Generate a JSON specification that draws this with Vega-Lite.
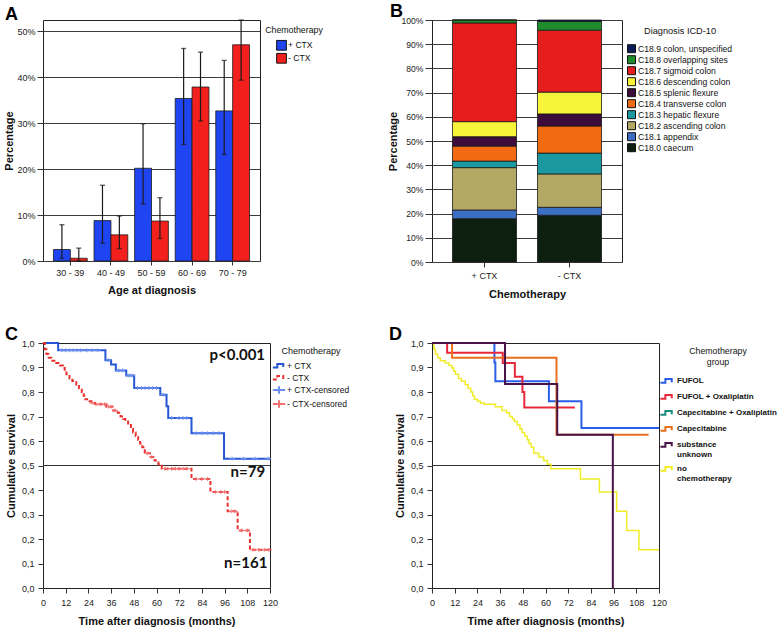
{
  "$schema": "https://vega.github.io/schema/vega-lite/v6.json",
  "background": "white",
  "padding": {"left": 3, "top": 2, "right": 0, "bottom": 0},
  "autosize": {"type": "pad"},
  "columns": 2,
  "bounds": "flush",
  "spacing": {"row": 81, "column": 162},
  "resolve": {
    "scale": {"color": "independent", "shape": "independent", "strokeDash": "independent", "x": "independent", "y": "independent", "xOffset": "independent"},
    "legend": {"color": "independent", "shape": "independent", "strokeDash": "independent"},
    "axis": {"x": "independent", "y": "independent"}
  },
  "config": {
    "font": "Liberation Sans",
    "view": {"stroke": "#222", "strokeWidth": 1},
    "axis": {"labelFont": "Liberation Sans", "labelFontSize": 9, "labelColor": "#222", "titleFont": "Liberation Sans", "titleFontSize": 11, "titleFontWeight": "bold", "titleColor": "#111", "tickColor": "#333", "domain": false, "grid": false, "labelFlush": false, "labelOverlap": false},
    "legend": {"labelFont": "Liberation Sans", "titleFont": "Liberation Sans", "titleFontWeight": "normal", "titleFontSize": 8.8, "labelFontSize": 8.6, "titleAnchor": "middle", "titleColor": "#111", "labelColor": "#111", "padding": 4, "rowPadding": -7},
    "title": {"font": "Liberation Sans", "fontSize": 18, "fontWeight": "bold", "anchor": "start", "frame": "group", "color": "#000", "baseline": "alphabetic", "offset": -5}
  },
  "datasets": {
    "age": [
      {"age": "30 - 39", "chemo": "+ CTX", "pct": 2.5, "lo": 0.6, "hi": 7.9},
      {"age": "30 - 39", "chemo": "- CTX", "pct": 0.6, "lo": 0.0, "hi": 2.8},
      {"age": "40 - 49", "chemo": "+ CTX", "pct": 8.8, "lo": 3.9, "hi": 16.5},
      {"age": "40 - 49", "chemo": "- CTX", "pct": 5.7, "lo": 2.7, "hi": 9.8},
      {"age": "50 - 59", "chemo": "+ CTX", "pct": 20.2, "lo": 12.4, "hi": 29.9},
      {"age": "50 - 59", "chemo": "- CTX", "pct": 8.7, "lo": 4.9, "hi": 13.8},
      {"age": "60 - 69", "chemo": "+ CTX", "pct": 35.4, "lo": 25.4, "hi": 46.3},
      {"age": "60 - 69", "chemo": "- CTX", "pct": 37.9, "lo": 30.5, "hi": 45.5},
      {"age": "70 - 79", "chemo": "+ CTX", "pct": 32.7, "lo": 23.2, "hi": 43.7},
      {"age": "70 - 79", "chemo": "- CTX", "pct": 47.1, "lo": 39.4, "hi": 52.5}
    ],
    "icd": [
      {"chemo": "+ CTX", "dx": "C18.0 caecum", "pct": 17.9},
      {"chemo": "+ CTX", "dx": "C18.1 appendix", "pct": 3.6},
      {"chemo": "+ CTX", "dx": "C18.2 ascending colon", "pct": 17.5},
      {"chemo": "+ CTX", "dx": "C18.3 hepatic flexure", "pct": 2.7},
      {"chemo": "+ CTX", "dx": "C18.4 transverse colon", "pct": 6.2},
      {"chemo": "+ CTX", "dx": "C18.5 splenic flexure", "pct": 3.9},
      {"chemo": "+ CTX", "dx": "C18.6 descending colon", "pct": 6.2},
      {"chemo": "+ CTX", "dx": "C18.7 sigmoid colon", "pct": 40.8},
      {"chemo": "+ CTX", "dx": "C18.8 overlapping sites", "pct": 1.2},
      {"chemo": "+ CTX", "dx": "C18.9 colon, unspecified", "pct": 0},
      {"chemo": "- CTX", "dx": "C18.0 caecum", "pct": 19.3},
      {"chemo": "- CTX", "dx": "C18.1 appendix", "pct": 3.3},
      {"chemo": "- CTX", "dx": "C18.2 ascending colon", "pct": 13.8},
      {"chemo": "- CTX", "dx": "C18.3 hepatic flexure", "pct": 8.6},
      {"chemo": "- CTX", "dx": "C18.4 transverse colon", "pct": 11.2},
      {"chemo": "- CTX", "dx": "C18.5 splenic flexure", "pct": 5.0},
      {"chemo": "- CTX", "dx": "C18.6 descending colon", "pct": 9.0},
      {"chemo": "- CTX", "dx": "C18.7 sigmoid colon", "pct": 25.6},
      {"chemo": "- CTX", "dx": "C18.8 overlapping sites", "pct": 3.6},
      {"chemo": "- CTX", "dx": "C18.9 colon, unspecified", "pct": 0.6}
    ],
    "kmC": [
      {"series": "+ CTX", "t": 0, "s": 1},
      {"series": "+ CTX", "t": 8, "s": 0.97},
      {"series": "+ CTX", "t": 33, "s": 0.93},
      {"series": "+ CTX", "t": 36, "s": 0.912},
      {"series": "+ CTX", "t": 38.5, "s": 0.888},
      {"series": "+ CTX", "t": 44, "s": 0.867},
      {"series": "+ CTX", "t": 48.2, "s": 0.816},
      {"series": "+ CTX", "t": 62, "s": 0.789},
      {"series": "+ CTX", "t": 65.3, "s": 0.742},
      {"series": "+ CTX", "t": 66.2, "s": 0.694},
      {"series": "+ CTX", "t": 78.5, "s": 0.632},
      {"series": "+ CTX", "t": 95.7, "s": 0.528},
      {"series": "+ CTX", "t": 120, "s": 0.528},
      {"series": "- CTX", "t": 0, "s": 1},
      {"series": "- CTX", "t": 1, "s": 0.975},
      {"series": "- CTX", "t": 1.8, "s": 0.955},
      {"series": "- CTX", "t": 3, "s": 0.94},
      {"series": "- CTX", "t": 4.4, "s": 0.928},
      {"series": "- CTX", "t": 7, "s": 0.918},
      {"series": "- CTX", "t": 9, "s": 0.908},
      {"series": "- CTX", "t": 10.5, "s": 0.898},
      {"series": "- CTX", "t": 11.5, "s": 0.885},
      {"series": "- CTX", "t": 12.4, "s": 0.872},
      {"series": "- CTX", "t": 14, "s": 0.855},
      {"series": "- CTX", "t": 15.5, "s": 0.845},
      {"series": "- CTX", "t": 17.6, "s": 0.83},
      {"series": "- CTX", "t": 19, "s": 0.815},
      {"series": "- CTX", "t": 20.5, "s": 0.8},
      {"series": "- CTX", "t": 21.5, "s": 0.785},
      {"series": "- CTX", "t": 22.4, "s": 0.77},
      {"series": "- CTX", "t": 24, "s": 0.762},
      {"series": "- CTX", "t": 25.6, "s": 0.755},
      {"series": "- CTX", "t": 27.5, "s": 0.75},
      {"series": "- CTX", "t": 33.5, "s": 0.74},
      {"series": "- CTX", "t": 37, "s": 0.725},
      {"series": "- CTX", "t": 39.5, "s": 0.715},
      {"series": "- CTX", "t": 41, "s": 0.7},
      {"series": "- CTX", "t": 42.5, "s": 0.69},
      {"series": "- CTX", "t": 43.5, "s": 0.68},
      {"series": "- CTX", "t": 45, "s": 0.665},
      {"series": "- CTX", "t": 46.5, "s": 0.65},
      {"series": "- CTX", "t": 47.6, "s": 0.635},
      {"series": "- CTX", "t": 49, "s": 0.62},
      {"series": "- CTX", "t": 50.3, "s": 0.605},
      {"series": "- CTX", "t": 51.3, "s": 0.59},
      {"series": "- CTX", "t": 52.5, "s": 0.575},
      {"series": "- CTX", "t": 53.8, "s": 0.55},
      {"series": "- CTX", "t": 56.5, "s": 0.535},
      {"series": "- CTX", "t": 59, "s": 0.52},
      {"series": "- CTX", "t": 61, "s": 0.505},
      {"series": "- CTX", "t": 62.8, "s": 0.487},
      {"series": "- CTX", "t": 78.5, "s": 0.445},
      {"series": "- CTX", "t": 88.5, "s": 0.392},
      {"series": "- CTX", "t": 97.6, "s": 0.313},
      {"series": "- CTX", "t": 102.9, "s": 0.235},
      {"series": "- CTX", "t": 109.4, "s": 0.156},
      {"series": "- CTX", "t": 120, "s": 0.156}
    ],
    "censC": [
      {"series": "+ CTX-censored", "t": 10, "s": 0.97},
      {"series": "+ CTX-censored", "t": 12, "s": 0.97},
      {"series": "+ CTX-censored", "t": 14, "s": 0.97},
      {"series": "+ CTX-censored", "t": 16, "s": 0.97},
      {"series": "+ CTX-censored", "t": 18, "s": 0.97},
      {"series": "+ CTX-censored", "t": 20, "s": 0.97},
      {"series": "+ CTX-censored", "t": 23, "s": 0.97},
      {"series": "+ CTX-censored", "t": 26, "s": 0.97},
      {"series": "+ CTX-censored", "t": 29, "s": 0.97},
      {"series": "+ CTX-censored", "t": 34.5, "s": 0.93},
      {"series": "+ CTX-censored", "t": 40, "s": 0.888},
      {"series": "+ CTX-censored", "t": 42, "s": 0.888},
      {"series": "+ CTX-censored", "t": 45.5, "s": 0.867},
      {"series": "+ CTX-censored", "t": 47, "s": 0.867},
      {"series": "+ CTX-censored", "t": 50, "s": 0.816},
      {"series": "+ CTX-censored", "t": 52, "s": 0.816},
      {"series": "+ CTX-censored", "t": 54, "s": 0.816},
      {"series": "+ CTX-censored", "t": 56, "s": 0.816},
      {"series": "+ CTX-censored", "t": 58, "s": 0.816},
      {"series": "+ CTX-censored", "t": 60, "s": 0.816},
      {"series": "+ CTX-censored", "t": 63.5, "s": 0.789},
      {"series": "+ CTX-censored", "t": 68, "s": 0.694},
      {"series": "+ CTX-censored", "t": 72, "s": 0.694},
      {"series": "+ CTX-censored", "t": 74, "s": 0.694},
      {"series": "+ CTX-censored", "t": 76, "s": 0.694},
      {"series": "+ CTX-censored", "t": 81, "s": 0.632},
      {"series": "+ CTX-censored", "t": 84, "s": 0.632},
      {"series": "+ CTX-censored", "t": 87, "s": 0.632},
      {"series": "+ CTX-censored", "t": 90, "s": 0.632},
      {"series": "+ CTX-censored", "t": 93, "s": 0.632},
      {"series": "+ CTX-censored", "t": 100, "s": 0.528},
      {"series": "+ CTX-censored", "t": 106, "s": 0.528},
      {"series": "+ CTX-censored", "t": 112, "s": 0.528},
      {"series": "+ CTX-censored", "t": 119, "s": 0.528},
      {"series": "- CTX-censored", "t": 26, "s": 0.755},
      {"series": "- CTX-censored", "t": 28.5, "s": 0.75},
      {"series": "- CTX-censored", "t": 30.5, "s": 0.75},
      {"series": "- CTX-censored", "t": 32.5, "s": 0.75},
      {"series": "- CTX-censored", "t": 34.5, "s": 0.74},
      {"series": "- CTX-censored", "t": 36, "s": 0.74},
      {"series": "- CTX-censored", "t": 38, "s": 0.725},
      {"series": "- CTX-censored", "t": 55, "s": 0.55},
      {"series": "- CTX-censored", "t": 57.5, "s": 0.535},
      {"series": "- CTX-censored", "t": 64.5, "s": 0.487},
      {"series": "- CTX-censored", "t": 66, "s": 0.487},
      {"series": "- CTX-censored", "t": 68, "s": 0.487},
      {"series": "- CTX-censored", "t": 70, "s": 0.487},
      {"series": "- CTX-censored", "t": 72, "s": 0.487},
      {"series": "- CTX-censored", "t": 74, "s": 0.487},
      {"series": "- CTX-censored", "t": 76, "s": 0.487},
      {"series": "- CTX-censored", "t": 81, "s": 0.445},
      {"series": "- CTX-censored", "t": 84, "s": 0.445},
      {"series": "- CTX-censored", "t": 87, "s": 0.445},
      {"series": "- CTX-censored", "t": 91, "s": 0.392},
      {"series": "- CTX-censored", "t": 94, "s": 0.392},
      {"series": "- CTX-censored", "t": 96, "s": 0.392},
      {"series": "- CTX-censored", "t": 99.5, "s": 0.313},
      {"series": "- CTX-censored", "t": 101.5, "s": 0.313},
      {"series": "- CTX-censored", "t": 105, "s": 0.235},
      {"series": "- CTX-censored", "t": 108, "s": 0.235},
      {"series": "- CTX-censored", "t": 111, "s": 0.156},
      {"series": "- CTX-censored", "t": 114, "s": 0.156},
      {"series": "- CTX-censored", "t": 117, "s": 0.156},
      {"series": "- CTX-censored", "t": 119.5, "s": 0.156}
    ],
    "notesC": [
      {"label": "p<0.001", "t": 117.4, "s": 0.952},
      {"label": "n=79", "t": 117.4, "s": 0.472},
      {"label": "n=161", "t": 118.6, "s": 0.102}
    ],
    "kmD": [
      {"group": "Capecitabine + Oxaliplatin", "t": 0, "s": 1},
      {"group": "Capecitabine + Oxaliplatin", "t": 5, "s": 1},
      {"group": "no chemotherapy", "t": 0, "s": 1},
      {"group": "no chemotherapy", "t": 1, "s": 0.975},
      {"group": "no chemotherapy", "t": 1.8, "s": 0.955},
      {"group": "no chemotherapy", "t": 3, "s": 0.94},
      {"group": "no chemotherapy", "t": 4.4, "s": 0.928},
      {"group": "no chemotherapy", "t": 7, "s": 0.918},
      {"group": "no chemotherapy", "t": 9, "s": 0.908},
      {"group": "no chemotherapy", "t": 10.5, "s": 0.898},
      {"group": "no chemotherapy", "t": 11.5, "s": 0.885},
      {"group": "no chemotherapy", "t": 12.4, "s": 0.872},
      {"group": "no chemotherapy", "t": 14, "s": 0.855},
      {"group": "no chemotherapy", "t": 15.5, "s": 0.845},
      {"group": "no chemotherapy", "t": 17.6, "s": 0.83},
      {"group": "no chemotherapy", "t": 19, "s": 0.815},
      {"group": "no chemotherapy", "t": 20.5, "s": 0.8},
      {"group": "no chemotherapy", "t": 21.5, "s": 0.785},
      {"group": "no chemotherapy", "t": 22.4, "s": 0.77},
      {"group": "no chemotherapy", "t": 24, "s": 0.762},
      {"group": "no chemotherapy", "t": 25.6, "s": 0.755},
      {"group": "no chemotherapy", "t": 27.5, "s": 0.75},
      {"group": "no chemotherapy", "t": 33.5, "s": 0.74},
      {"group": "no chemotherapy", "t": 37, "s": 0.725},
      {"group": "no chemotherapy", "t": 39.5, "s": 0.715},
      {"group": "no chemotherapy", "t": 41, "s": 0.7},
      {"group": "no chemotherapy", "t": 42.5, "s": 0.69},
      {"group": "no chemotherapy", "t": 43.5, "s": 0.68},
      {"group": "no chemotherapy", "t": 45, "s": 0.665},
      {"group": "no chemotherapy", "t": 46.5, "s": 0.65},
      {"group": "no chemotherapy", "t": 47.6, "s": 0.635},
      {"group": "no chemotherapy", "t": 49, "s": 0.62},
      {"group": "no chemotherapy", "t": 50.3, "s": 0.605},
      {"group": "no chemotherapy", "t": 51.3, "s": 0.59},
      {"group": "no chemotherapy", "t": 52.5, "s": 0.575},
      {"group": "no chemotherapy", "t": 53.8, "s": 0.55},
      {"group": "no chemotherapy", "t": 56.5, "s": 0.535},
      {"group": "no chemotherapy", "t": 59, "s": 0.52},
      {"group": "no chemotherapy", "t": 61, "s": 0.505},
      {"group": "no chemotherapy", "t": 62.8, "s": 0.487},
      {"group": "no chemotherapy", "t": 78.5, "s": 0.445},
      {"group": "no chemotherapy", "t": 88.5, "s": 0.392},
      {"group": "no chemotherapy", "t": 97.6, "s": 0.313},
      {"group": "no chemotherapy", "t": 102.9, "s": 0.235},
      {"group": "no chemotherapy", "t": 109.4, "s": 0.156},
      {"group": "no chemotherapy", "t": 120, "s": 0.156},
      {"group": "FUFOL", "t": 0, "s": 1},
      {"group": "FUFOL", "t": 33, "s": 0.92},
      {"group": "FUFOL", "t": 33.5, "s": 0.844},
      {"group": "FUFOL", "t": 61.8, "s": 0.762},
      {"group": "FUFOL", "t": 79, "s": 0.653},
      {"group": "FUFOL", "t": 120, "s": 0.653},
      {"group": "FUFOL + Oxaliplatin", "t": 0, "s": 1},
      {"group": "FUFOL + Oxaliplatin", "t": 8, "s": 0.96},
      {"group": "FUFOL + Oxaliplatin", "t": 37.4, "s": 0.918},
      {"group": "FUFOL + Oxaliplatin", "t": 43.8, "s": 0.862},
      {"group": "FUFOL + Oxaliplatin", "t": 47.8, "s": 0.8},
      {"group": "FUFOL + Oxaliplatin", "t": 48.8, "s": 0.737},
      {"group": "FUFOL + Oxaliplatin", "t": 75.5, "s": 0.737},
      {"group": "Capecitabine", "t": 0, "s": 1},
      {"group": "Capecitabine", "t": 10.6, "s": 0.94},
      {"group": "Capecitabine", "t": 65.8, "s": 0.626},
      {"group": "Capecitabine", "t": 114.5, "s": 0.626},
      {"group": "substance unknown", "t": 0, "s": 1},
      {"group": "substance unknown", "t": 38.6, "s": 0.833},
      {"group": "substance unknown", "t": 66.2, "s": 0.626},
      {"group": "substance unknown", "t": 95.6, "s": 0}
    ]
  },
  "concat": [
    {
      "width": 217,
      "height": 241,
      "title": {"text": "A", "dx": -38},
      "data": {"name": "age"},
      "encoding": {
        "x": {"field": "age", "type": "nominal", "title": "Age at diagnosis", "scale": {"paddingInner": 0.168, "paddingOuter": 0.258}, "axis": {"labelAngle": 0, "tickSize": 4, "labelPadding": 3, "titlePadding": 7}},
        "xOffset": {"field": "chemo", "type": "nominal", "sort": ["+ CTX", "- CTX"]}
      },
      "layer": [
        {
          "mark": {"type": "bar", "stroke": "#1a1a1a", "strokeWidth": 0.8},
          "encoding": {
            "y": {"field": "pct", "type": "quantitative", "title": "Percentage", "scale": {"domain": [0, 52.5], "nice": false}, "axis": {"values": [0, 10, 20, 30, 40, 50], "labelExpr": "datum.value + '%'", "grid": true, "gridColor": "#3c3c3c", "gridWidth": 1.2, "tickSize": 6, "labelPadding": 2, "titlePadding": 2}},
            "color": {"field": "chemo", "type": "nominal", "scale": {"domain": ["+ CTX", "- CTX"], "range": ["#1f44f2", "#f2201c"]}, "legend": {"title": "Chemotherapy", "orient": "right", "offset": -1, "symbolType": "square", "symbolSize": 95, "symbolStrokeColor": "#111", "symbolStrokeWidth": 1, "rowPadding": -4.7, "labelOffset": 1, "titlePadding": 5, "padding": 6}}
          }
        },
        {
          "mark": {"type": "rule", "color": "#1a1a1a", "strokeWidth": 1.2},
          "encoding": {"y": {"field": "lo", "type": "quantitative", "title": "Percentage", "axis": {"values": [0, 10, 20, 30, 40, 50], "labelExpr": "datum.value + '%'", "grid": true, "gridColor": "#3c3c3c", "gridWidth": 1.2, "tickSize": 6, "labelPadding": 2, "titlePadding": 2}}, "y2": {"field": "hi"}}
        },
        {
          "mark": {"type": "tick", "color": "#1a1a1a", "orient": "horizontal", "size": 5, "thickness": 1.3},
          "encoding": {"y": {"field": "hi", "type": "quantitative", "title": "Percentage", "axis": {"values": [0, 10, 20, 30, 40, 50], "labelExpr": "datum.value + '%'", "grid": true, "gridColor": "#3c3c3c", "gridWidth": 1.2, "tickSize": 6, "labelPadding": 2, "titlePadding": 2}}}
        },
        {
          "mark": {"type": "tick", "color": "#1a1a1a", "orient": "horizontal", "size": 5, "thickness": 1.3},
          "encoding": {"y": {"field": "lo", "type": "quantitative", "title": "Percentage", "axis": {"values": [0, 10, 20, 30, 40, 50], "labelExpr": "datum.value + '%'", "grid": true, "gridColor": "#3c3c3c", "gridWidth": 1.2, "tickSize": 6, "labelPadding": 2, "titlePadding": 2}}}
        }
      ]
    },
    {
      "width": 190,
      "height": 242,
      "title": {"text": "B", "dx": -42},
      "data": {"name": "icd"},
      "mark": {"type": "bar", "stroke": "#1a1a1a", "strokeWidth": 0.8},
      "encoding": {
        "x": {"field": "chemo", "type": "nominal", "title": "Chemotherapy", "sort": ["+ CTX", "- CTX"], "scale": {"paddingInner": 0.247, "paddingOuter": 0.241}, "axis": {"labelAngle": 0, "tickSize": 5, "labelPadding": 4, "titlePadding": 8}},
        "y": {"field": "pct", "type": "quantitative", "stack": "zero", "title": "Percentage", "scale": {"domain": [0, 100], "nice": false}, "axis": {"values": [0, 10, 20, 30, 40, 50, 60, 70, 80, 90, 100], "labelExpr": "datum.value + '%'", "labelFontSize": 8.6, "grid": true, "gridColor": "#3c3c3c", "gridWidth": 1.2, "tickSize": 7, "labelPadding": 2, "titlePadding": 3}},
        "color": {"field": "dx", "type": "nominal", "scale": {"domain": ["C18.9 colon, unspecified", "C18.8 overlapping sites", "C18.7 sigmoid colon", "C18.6 descending colon", "C18.5 splenic flexure", "C18.4 transverse colon", "C18.3 hepatic flexure", "C18.2 ascending colon", "C18.1 appendix", "C18.0 caecum"], "range": ["#0c1c5a", "#1f8c2c", "#e51d1d", "#f8f43a", "#3c0c3a", "#f26a12", "#1a9aa0", "#b3a864", "#3a6fc4", "#0d2010"]}, "legend": {"title": "Diagnosis ICD-10", "orient": "right", "offset": -2, "padding": 7, "symbolType": "square", "symbolSize": 64, "symbolStrokeColor": "#111", "symbolStrokeWidth": 1, "rowPadding": -2.2, "labelOffset": 2, "titlePadding": 8, "labelFontSize": 8.6, "titleFontSize": 9.2}},
        "order": {"field": "dx", "type": "nominal", "sort": "ascending"}
      }
    },
    {
      "width": 227,
      "height": 245,
      "title": {"text": "C", "dx": -38},
      "layer": [
        {
          "data": {"values": [{"s": 0.5}]},
          "mark": {"type": "rule", "color": "#333", "strokeWidth": 1},
          "encoding": {"y": {"field": "s", "type": "quantitative", "title": "Cumulative survival", "scale": {"domain": [0, 1], "nice": false}, "axis": {"values": [0, 0.1, 0.2, 0.3, 0.4, 0.5, 0.6, 0.7, 0.8, 0.9, 1], "labelExpr": "replace(format(datum.value, '.1f'), '.', ',')", "tickSize": 5, "labelPadding": 4, "titlePadding": 5}}}
        },
        {
          "data": {"name": "kmC"},
          "mark": {"type": "line", "interpolate": "step-after", "strokeWidth": 2},
          "encoding": {
            "x": {"field": "t", "type": "quantitative", "title": "Time after diagnosis (months)", "scale": {"domain": [0, 120], "nice": false}, "axis": {"values": [0, 12, 24, 36, 48, 60, 72, 84, 96, 108, 120], "tickSize": 5, "labelPadding": 5, "titlePadding": 8}},
            "y": {"field": "s", "type": "quantitative", "title": "Cumulative survival", "axis": {"values": [0, 0.1, 0.2, 0.3, 0.4, 0.5, 0.6, 0.7, 0.8, 0.9, 1], "labelExpr": "replace(format(datum.value, '.1f'), '.', ',')", "tickSize": 5, "labelPadding": 4, "titlePadding": 5}},
            "color": {"field": "series", "type": "nominal", "scale": {"domain": ["+ CTX", "- CTX", "+ CTX-censored", "- CTX-censored"], "range": ["#2456d6", "#e8312f", "#6b8ff0", "#f07070"]}, "legend": {"title": "Chemotherapy", "orient": "right", "offset": -5, "symbolSize": 90, "symbolStrokeWidth": 2, "rowPadding": -7, "labelOffset": 2, "titlePadding": 4, "labelFontSize": 8.5, "titleFontSize": 9}},
            "strokeDash": {"field": "series", "type": "nominal", "scale": {"domain": ["+ CTX", "- CTX", "+ CTX-censored", "- CTX-censored"], "range": [[1, 0], [4, 2.5], [1, 0], [1, 0]]}, "legend": {"title": "Chemotherapy", "orient": "right", "offset": -5, "symbolSize": 90, "symbolStrokeWidth": 2, "rowPadding": -7, "labelOffset": 2, "titlePadding": 4, "labelFontSize": 8.5, "titleFontSize": 9}}
          }
        },
        {
          "data": {"name": "censC"},
          "mark": {"type": "point", "filled": false, "strokeWidth": 1, "size": 22, "opacity": 1},
          "encoding": {
            "x": {"field": "t", "type": "quantitative", "title": "Time after diagnosis (months)", "axis": {"values": [0, 12, 24, 36, 48, 60, 72, 84, 96, 108, 120], "tickSize": 5, "labelPadding": 5, "titlePadding": 8}},
            "y": {"field": "s", "type": "quantitative", "title": "Cumulative survival", "axis": {"values": [0, 0.1, 0.2, 0.3, 0.4, 0.5, 0.6, 0.7, 0.8, 0.9, 1], "labelExpr": "replace(format(datum.value, '.1f'), '.', ',')", "tickSize": 5, "labelPadding": 4, "titlePadding": 5}},
            "color": {"field": "series", "type": "nominal"},
            "shape": {"field": "series", "type": "nominal", "scale": {"domain": ["+ CTX", "- CTX", "+ CTX-censored", "- CTX-censored"], "range": ["M-1.3,0.3H-0.35V-0.4H0.9V0.2", "M-1.3,0.3H-0.35V-0.4H0.9V0.2", "M-1.3,0H1.3M0,-0.8V0.8", "M-1.3,0H1.3M0,-0.8V0.8"]}, "legend": {"title": "Chemotherapy", "orient": "right", "offset": -5, "symbolSize": 90, "symbolStrokeWidth": 2, "rowPadding": -7, "labelOffset": 2, "titlePadding": 4, "labelFontSize": 8.5, "titleFontSize": 9}}
          }
        },
        {
          "data": {"name": "notesC"},
          "mark": {"type": "text", "align": "right", "baseline": "middle", "font": "Lato", "fontWeight": "bold", "fontSize": 15, "color": "#111"},
          "encoding": {
            "x": {"field": "t", "type": "quantitative", "title": "Time after diagnosis (months)", "axis": {"values": [0, 12, 24, 36, 48, 60, 72, 84, 96, 108, 120], "tickSize": 5, "labelPadding": 5, "titlePadding": 8}},
            "y": {"field": "s", "type": "quantitative", "title": "Cumulative survival", "axis": {"values": [0, 0.1, 0.2, 0.3, 0.4, 0.5, 0.6, 0.7, 0.8, 0.9, 1], "labelExpr": "replace(format(datum.value, '.1f'), '.', ',')", "tickSize": 5, "labelPadding": 4, "titlePadding": 5}},
            "text": {"field": "label", "type": "nominal"}
          }
        }
      ]
    },
    {
      "width": 227,
      "height": 245,
      "title": {"text": "D", "dx": -43},
      "layer": [
        {
          "data": {"values": [{"s": 0.5}]},
          "mark": {"type": "rule", "color": "#333", "strokeWidth": 1},
          "encoding": {"y": {"field": "s", "type": "quantitative", "title": "Cumulative survival", "scale": {"domain": [0, 1], "nice": false}, "axis": {"values": [0, 0.1, 0.2, 0.3, 0.4, 0.5, 0.6, 0.7, 0.8, 0.9, 1], "labelExpr": "replace(format(datum.value, '.1f'), '.', ',')", "tickSize": 5, "labelPadding": 4, "titlePadding": 5}}}
        },
        {
          "data": {"name": "kmD"},
          "transform": [{"filter": "datum.group == 'no chemotherapy'"}],
          "mark": {"type": "line", "interpolate": "step-after", "strokeWidth": 1.5},
          "encoding": {
            "x": {"field": "t", "type": "quantitative", "title": "Time after diagnosis (months)", "scale": {"domain": [0, 120], "nice": false}, "axis": {"values": [0, 12, 24, 36, 48, 60, 72, 84, 96, 108, 120], "tickSize": 5, "labelPadding": 5, "titlePadding": 8}},
            "y": {"field": "s", "type": "quantitative", "title": "Cumulative survival", "axis": {"values": [0, 0.1, 0.2, 0.3, 0.4, 0.5, 0.6, 0.7, 0.8, 0.9, 1], "labelExpr": "replace(format(datum.value, '.1f'), '.', ',')", "tickSize": 5, "labelPadding": 4, "titlePadding": 5}},
            "color": {"field": "group", "type": "nominal", "scale": {"domain": ["FUFOL", "FUFOL + Oxaliplatin", "Capecitabine + Oxaliplatin", "Capecitabine", "substance unknown", "no chemotherapy"], "range": ["#2a5ee8", "#e8283a", "#1a8a7a", "#e8701e", "#4a1448", "#f0ec28"]}, "legend": {"title": ["Chemotherapy", "group"], "orient": "right", "offset": -8, "symbolType": "M-1,0.25H-0.3V-0.3H0.6V0.15", "symbolSize": 200, "symbolStrokeWidth": 2, "rowPadding": 1, "labelOffset": 1, "titlePadding": 6, "labelFontSize": 8, "labelFontWeight": "bold", "labelExpr": "datum.label == 'substance unknown' ? ['substance', 'unknown'] : datum.label == 'no chemotherapy' ? ['no', 'chemotherapy'] : datum.label"}}
          }
        },
        {
          "data": {"name": "kmD"},
          "transform": [{"filter": "datum.group != 'no chemotherapy'"}],
          "mark": {"type": "line", "interpolate": "step-after", "strokeWidth": 2},
          "encoding": {
            "x": {"field": "t", "type": "quantitative", "title": "Time after diagnosis (months)", "axis": {"values": [0, 12, 24, 36, 48, 60, 72, 84, 96, 108, 120], "tickSize": 5, "labelPadding": 5, "titlePadding": 8}},
            "y": {"field": "s", "type": "quantitative", "title": "Cumulative survival", "axis": {"values": [0, 0.1, 0.2, 0.3, 0.4, 0.5, 0.6, 0.7, 0.8, 0.9, 1], "labelExpr": "replace(format(datum.value, '.1f'), '.', ',')", "tickSize": 5, "labelPadding": 4, "titlePadding": 5}},
            "color": {"field": "group", "type": "nominal", "legend": {"title": ["Chemotherapy", "group"], "orient": "right", "offset": -8, "symbolType": "M-1,0.25H-0.3V-0.3H0.6V0.15", "symbolSize": 200, "symbolStrokeWidth": 2, "rowPadding": 1, "labelOffset": 1, "titlePadding": 6, "labelFontSize": 8, "labelFontWeight": "bold", "labelExpr": "datum.label == 'substance unknown' ? ['substance', 'unknown'] : datum.label == 'no chemotherapy' ? ['no', 'chemotherapy'] : datum.label"}}
          }
        }
      ]
    }
  ]
}
